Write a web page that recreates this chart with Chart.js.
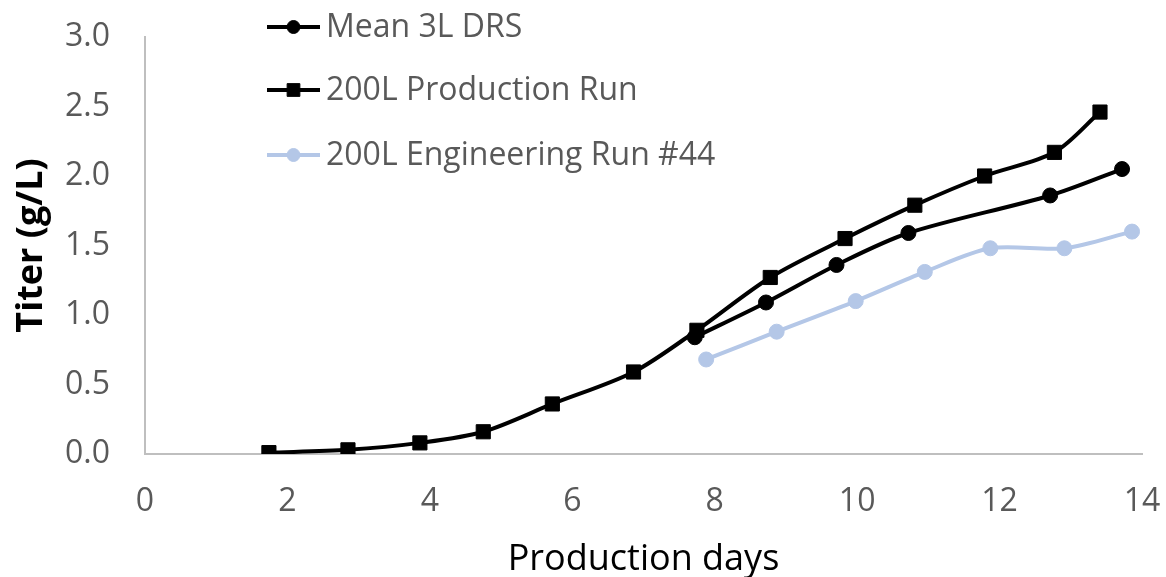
<!DOCTYPE html>
<html>
<head>
<meta charset="utf-8">
<script src="https://cdn.jsdelivr.net/npm/chart.js@4/dist/chart.umd.min.js"></script>
<style>
  html, body { margin: 0; padding: 0; background: #ffffff; }
  #wrap { width: 1166px; height: 577px; }
</style>
</head>
<body>
<div id="wrap"><canvas id="titerChart" width="1166" height="577"></canvas></div>
<script>
// Titer (g/L) by production day for each run
const mean3LDays  = [7.72, 8.72, 9.71, 10.72, 12.71, 13.72];
const mean3LTiter = [0.84, 1.09, 1.36, 1.59, 1.86, 2.05];

const prodDays  = [1.74, 2.85, 3.86, 4.75, 5.72, 6.86, 7.75, 8.78, 9.83, 10.81, 11.79, 12.77, 13.41];
const prodTiter = [0.01, 0.03, 0.08, 0.16, 0.36, 0.59, 0.89, 1.27, 1.55, 1.79, 2.00, 2.17, 2.46];

const engDays  = [7.88, 8.87, 9.98, 10.95, 11.87, 12.91, 13.86];
const engTiter = [0.68, 0.88, 1.10, 1.31, 1.48, 1.48, 1.60];

const seriesNames = ['Mean 3L DRS', '200L Production Run', '200L Engineering Run #44'];
const xTicks = [0, 2, 4, 6, 8, 10, 12, 14];
const yTicks = [0.0, 0.5, 1.0, 1.5, 2.0, 2.5, 3.0];

const toPoints = (xs, ys) => xs.map((x, i) => ({ x: x, y: ys[i] }));

const FONT = "'Open Sans', 'DejaVu Sans', sans-serif";
const TEXT_GREY = '#595959';
const AXIS_GREY = '#bfbfbf';

// Legend drawn inside the plot's upper-left area, one row per series
const insideLegend = {
  id: 'insideLegend',
  afterDraw(chart) {
    const ctx = chart.ctx;
    const rows = [27, 90, 155];
    const x0 = 267, x1 = 320, textX = 326;
    ctx.save();
    chart.data.datasets.forEach((ds, i) => {
      const y = rows[i];
      ctx.strokeStyle = ds.borderColor;
      ctx.lineWidth = ds.borderWidth;
      ctx.beginPath();
      ctx.moveTo(x0, y);
      ctx.lineTo(x1, y);
      ctx.stroke();
      ctx.fillStyle = ds.pointBackgroundColor;
      ctx.strokeStyle = ds.pointBorderColor;
      ctx.lineWidth = 1;
      Chart.helpers.drawPoint(ctx, {
        pointStyle: ds.pointStyle,
        radius: ds.pointStyle === 'rect' ? 9 : 6.5,
        rotation: 0,
        borderWidth: 1
      }, (x0 + x1) / 2, y);
      ctx.fillStyle = TEXT_GREY;
      ctx.font = '32px ' + FONT;
      ctx.textAlign = 'left';
      ctx.textBaseline = 'middle';
      ctx.fillText(ds.label, textX, y + 1);
    });
    ctx.restore();
  }
};

new Chart(document.getElementById('titerChart'), {
  type: 'line',
  data: {
    datasets: [
      {
        label: seriesNames[0],
        data: toPoints(mean3LDays, mean3LTiter),
        borderColor: '#000000',
        backgroundColor: '#000000',
        pointBackgroundColor: '#000000',
        pointBorderColor: '#000000',
        borderWidth: 4,
        pointStyle: 'circle',
        pointRadius: 7.5,
        pointBorderWidth: 1,
        tension: 0.3
      },
      {
        label: seriesNames[1],
        data: toPoints(prodDays, prodTiter),
        borderColor: '#000000',
        backgroundColor: '#000000',
        pointBackgroundColor: '#000000',
        pointBorderColor: '#000000',
        borderWidth: 4,
        pointStyle: 'rect',
        pointRadius: 10,
        pointBorderWidth: 1,
        tension: 0.3
      },
      {
        label: seriesNames[2],
        data: toPoints(engDays, engTiter),
        borderColor: '#b4c7e7',
        backgroundColor: '#b4c7e7',
        pointBackgroundColor: '#b4c7e7',
        pointBorderColor: '#b4c7e7',
        borderWidth: 4,
        pointStyle: 'circle',
        pointRadius: 7.5,
        pointBorderWidth: 1,
        tension: 0.3
      }
    ]
  },
  options: {
    responsive: false,
    animation: false,
    devicePixelRatio: 1,
    layout: { padding: { left: 0, right: 24, top: 37, bottom: 0 } },
    plugins: {
      legend: { display: false },
      tooltip: { enabled: false }
    },
    scales: {
      x: {
        type: 'linear',
        min: 0,
        max: 14,
        afterBuildTicks: (scale) => { scale.ticks = xTicks.map(v => ({ value: v })); },
        afterFit: (scale) => {
          scale.height = 123;
          scale.paddingLeft = 0;
          scale.paddingRight = 0;
        },
        grid: { display: false, drawTicks: false },
        border: { display: true, color: AXIS_GREY, width: 2 },
        ticks: {
          padding: 29,
          color: TEXT_GREY,
          font: { family: FONT, size: 32 },
          maxRotation: 0,
          callback: (v) => String(v)
        },
        title: {
          display: true,
          text: 'Production days',
          color: '#000000',
          font: { family: FONT, size: 36 },
          padding: { top: 0, bottom: -4 }
        }
      },
      y: {
        min: 0,
        max: 3,
        afterBuildTicks: (scale) => { scale.ticks = yTicks.map(v => ({ value: v })); },
        afterFit: (scale) => {
          scale.width = 145;
          scale.paddingTop = 0;
          scale.paddingBottom = 0;
        },
        grid: { display: false, drawTicks: false },
        border: { display: true, color: AXIS_GREY, width: 2 },
        ticks: {
          padding: 35,
          color: TEXT_GREY,
          font: { family: FONT, size: 32 },
          callback: (v) => Number(v).toFixed(1)
        },
        title: {
          display: true,
          text: 'Titer (g/L)',
          color: '#000000',
          font: { family: FONT, size: 36, weight: 'bold' },
          padding: { top: 10, bottom: 0 }
        }
      }
    }
  },
  plugins: [insideLegend]
});
</script>
</body>
</html>
